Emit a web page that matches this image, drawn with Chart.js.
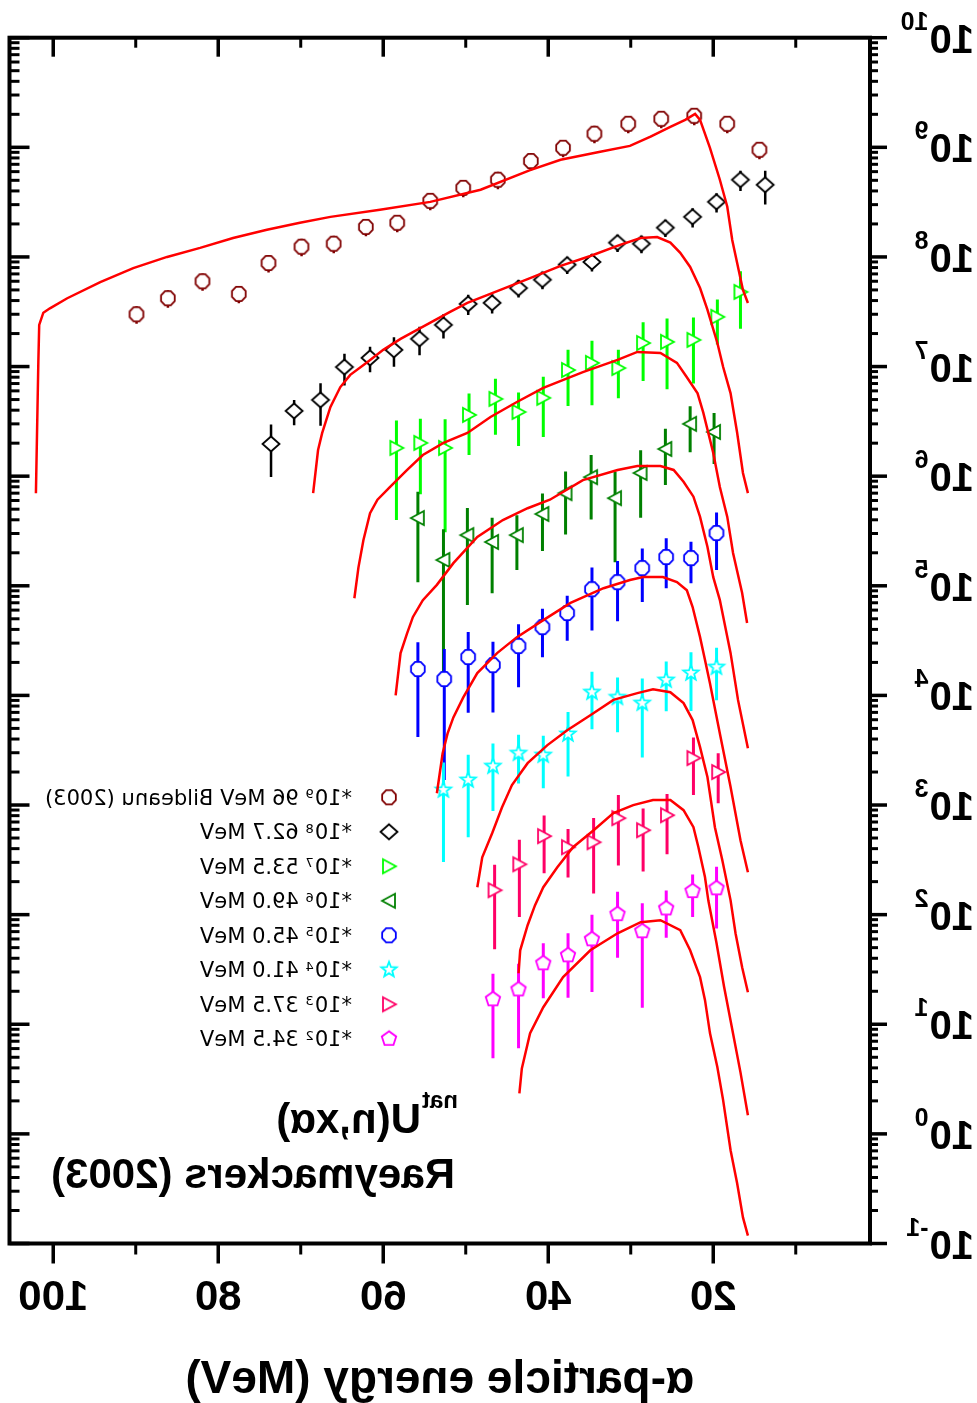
<!DOCTYPE html>
<html>
<head>
<meta charset="utf-8">
<script src="https://cdn.jsdelivr.net/npm/chart.js@4.4.0/dist/chart.umd.min.js"></script>
<style>
  html, body { margin: 0; padding: 0; background: #fff; }
  /* the reference is a mirror image of the original plot */
  #wrap { width: 977px; height: 1403px; transform: scaleX(-1); }
</style>
</head>
<body>
<div id="wrap"><canvas id="chart" width="977" height="1403"></canvas></div>
<script>
// measured points: energy (MeV), scaled yield, relative error
var e96 = [89.9, 86.1, 81.9, 77.5, 73.9, 69.9, 66.0, 62.1, 58.3, 54.3, 50.3, 46.1, 42.1, 38.2, 34.4, 30.3, 26.3, 22.3, 18.3, 14.4];
var y96 = [3.0e7, 4.2e7, 6.0e7, 4.6e7, 8.8e7, 1.24e8, 1.32e8, 1.88e8, 2.05e8, 3.25e8, 4.27e8, 5.06e8, 7.5e8, 9.9e8, 1.33e9, 1.64e9, 1.82e9, 1.94e9, 1.64e9, 9.5e8];
var f96 = [0.18, 0.18, 0.18, 0.18, 0.18, 0.18, 0.18, 0.18, 0.18, 0.18, 0.18, 0.18, 0.18, 0.18, 0.18, 0.18, 0.18, 0.18, 0.18, 0.18];

var e627 = [73.6, 70.8, 67.6, 64.7, 61.6, 58.7, 55.6, 52.7, 49.7, 46.8, 43.6, 40.7, 37.7, 34.7, 31.6, 28.7, 25.8, 22.5, 19.6, 16.7, 13.7];
var y627 = [1.97e6, 3.94e6, 4.96e6, 9.9e6, 1.2e7, 1.42e7, 1.79e7, 2.4e7, 3.73e7, 3.81e7, 5.2e7, 6.2e7, 8.5e7, 9.0e7, 1.35e8, 1.32e8, 1.85e8, 2.32e8, 3.18e8, 5.06e8, 4.55e8];
var f627 = [0.5, 0.26, 0.42, 0.32, 0.26, 0.3, 0.29, 0.25, 0.21, 0.2, 0.18, 0.18, 0.18, 0.18, 0.18, 0.18, 0.18, 0.2, 0.2, 0.21, 0.34];

var e535 = [58.4, 55.5, 52.5, 49.6, 46.4, 43.6, 40.6, 37.6, 34.7, 31.5, 28.5, 25.6, 22.4, 19.5, 16.7];
var y535 = [1.81e6, 2.01e6, 1.81e6, 3.62e6, 5.07e6, 3.85e6, 5.18e6, 9.3e6, 1.08e7, 9.7e6, 1.64e7, 1.68e7, 1.75e7, 2.84e7, 4.8e7];
var f535 = [0.78, 0.66, 0.83, 0.57, 0.53, 0.51, 0.56, 0.53, 0.59, 0.47, 0.55, 0.63, 0.6, 0.44, 0.54];

var e490 = [55.8, 52.7, 49.8, 46.8, 43.8, 40.7, 37.9, 34.8, 31.9, 28.8, 25.8, 22.8, 19.9];
var y490 = [4.15e5, 1.72e5, 2.9e5, 2.51e5, 2.9e5, 4.52e5, 7.0e5, 9.8e5, 6.3e5, 1.07e6, 1.77e6, 3.0e6, 2.53e6];
var f490 = [0.74, 0.91, 0.77, 0.66, 0.52, 0.54, 0.58, 0.59, 0.74, 0.61, 0.53, 0.45, 0.49];

var e450 = [55.8, 52.6, 49.7, 46.7, 43.6, 40.7, 37.7, 34.7, 31.6, 28.6, 25.7, 22.7, 19.6];
var y450 = [1.74e4, 1.41e4, 2.24e4, 1.89e4, 2.82e4, 4.2e4, 5.64e4, 9.3e4, 1.08e5, 1.45e5, 1.83e5, 1.79e5, 3.03e5];
var f450 = [0.76, 0.88, 0.69, 0.63, 0.58, 0.47, 0.44, 0.58, 0.56, 0.51, 0.48, 0.41, 0.54];

var e410 = [52.7, 49.7, 46.7, 43.6, 40.6, 37.6, 34.7, 31.6, 28.6, 25.7, 22.7, 19.6];
var y410 = [1.37e3, 1.69e3, 2.26e3, 2.97e3, 2.85e3, 4.44e3, 1.07e4, 9.6e3, 8.5e3, 1.38e4, 1.6e4, 1.81e4];
var f410 = [0.78, 0.7, 0.61, 0.47, 0.5, 0.59, 0.54, 0.52, 0.68, 0.48, 0.55, 0.5];

var e375 = [46.5, 43.5, 40.5, 37.6, 34.5, 31.5, 28.5, 25.6, 22.4, 19.4];
var y375 = [167, 288, 520, 412, 458, 759, 589, 807, 2680, 2000];
var f375 = [0.71, 0.67, 0.54, 0.47, 0.66, 0.63, 0.58, 0.56, 0.54, 0.48];

var e345 = [46.7, 43.6, 40.6, 37.6, 34.7, 31.6, 28.6, 25.7, 22.5, 19.6];
var y345 = [16.9, 20.8, 36.0, 42.6, 59.6, 101, 70.6, 114, 164, 174];
var f345 = [0.71, 0.71, 0.52, 0.59, 0.67, 0.6, 0.8, 0.46, 0.42, 0.57];

// calculated spectra (red lines)
var cA_x = [102.1, 101.8, 101.7, 101.2, 100.4, 98.3, 94.3, 90.3, 86.2, 82.2, 78.2, 74.1, 70.1, 66.4, 60.4, 54.3, 48.2, 42.2, 38.5, 33.7, 30.1, 27.6, 25.2, 23.4, 22.2, 21.6, 20.4, 19.2, 18.3, 17.7, 17.0, 16.4, 15.8];
var cA_y = [7.0e5, 1.15e7, 2.4e7, 3.1e7, 3.4e7, 4.2e7, 5.9e7, 7.9e7, 1.0e8, 1.21e8, 1.49e8, 1.77e8, 2.05e8, 2.32e8, 2.69e8, 3.18e8, 4.1e8, 6.2e8, 7.7e8, 9.1e8, 1.03e9, 1.25e9, 1.54e9, 1.78e9, 2.02e9, 1.78e9, 9.9e8, 5.06e8, 2.87e8, 1.43e8, 8.1e7, 5.0e7, 3.8e7];
var cB_x = [68.5, 67.9, 67.4, 66.4, 65.2, 64.0, 61.9, 60.0, 57.9, 55.9, 53.9, 51.9, 49.8, 45.8, 42.2, 38.5, 34.9, 31.3, 28.8, 26.8, 25.2, 24.0, 22.8, 21.6, 20.7, 19.5, 18.8, 17.9, 17.1, 16.4, 15.8];
var cB_y = [7.0e5, 1.73e6, 2.48e6, 4.28e6, 6.5e6, 8.4e6, 1.1e7, 1.42e7, 1.79e7, 2.16e7, 2.61e7, 3.15e7, 3.81e7, 5.0e7, 6.4e7, 8.3e7, 1.02e8, 1.29e8, 1.49e8, 1.52e8, 1.35e8, 1.09e8, 8.1e7, 5.2e7, 3.29e7, 1.64e7, 9.9e6, 5.7e6, 2.48e6, 1.07e6, 7.0e5];
var cC_x = [63.5, 63.0, 62.4, 61.6, 60.7, 59.2, 57.1, 55.2, 52.7, 49.8, 47.0, 43.8, 40.6, 35.8, 31.6, 29.2, 26.4, 24.4, 23.2, 21.9, 21.2, 20.0, 19.2, 18.3, 17.6, 16.5, 15.9];
var cC_y = [7.7e4, 1.48e5, 2.62e5, 4.6e5, 6.1e5, 7.96e5, 1.14e6, 1.56e6, 2.01e6, 2.48e6, 3.47e6, 4.75e6, 6.4e6, 8.9e6, 1.15e7, 1.36e7, 1.33e7, 1.08e7, 8.0e6, 5.7e6, 3.78e6, 1.63e6, 7.96e5, 4.25e5, 1.99e5, 8.6e4, 4.57e4];
var cD_x = [58.5, 57.9, 57.1, 56.4, 55.2, 53.5, 51.5, 48.6, 45.5, 42.5, 39.8, 35.8, 31.6, 29.2, 26.4, 24.8, 23.6, 22.4, 21.6, 20.7, 20.0, 19.2, 17.9, 17.0, 15.8];
var cD_y = [1.0e4, 2.43e4, 3.7e4, 5.2e4, 7.4e4, 1.02e5, 1.61e5, 2.79e5, 3.98e5, 5.1e5, 6.1e5, 9.2e5, 1.14e6, 1.24e6, 1.24e6, 1.14e6, 8.9e5, 6.5e5, 4.25e5, 2.26e5, 1.2e5, 7.4e4, 2.43e4, 9.1e3, 3.3e3];
var cE_x = [53.5, 52.8, 52.2, 51.5, 50.3, 48.6, 46.2, 43.8, 40.6, 37.3, 33.3, 30.1, 28.5, 26.1, 24.4, 23.2, 22.5, 21.6, 21.0, 20.4, 19.2, 17.9, 16.7, 15.8];
var cE_y = [1.28e3, 2.97e3, 4.5e3, 6.3e3, 9.6e3, 1.6e4, 2.43e4, 3.4e4, 4.86e4, 6.97e4, 9.5e4, 1.13e5, 1.2e5, 1.2e5, 1.08e5, 9.1e4, 6.4e4, 3.4e4, 2.1e4, 1.29e4, 4.5e3, 1.46e3, 478, 244];
var cF_x = [48.6, 48.0, 46.8, 45.6, 44.4, 42.5, 40.1, 37.7, 34.9, 32.1, 29.2, 27.3, 25.2, 23.6, 22.5, 21.6, 20.7, 19.8, 18.9, 17.9, 17.3, 16.5, 15.8];
var cF_y = [178, 334, 553, 955, 1520, 2410, 3520, 4820, 6600, 9100, 1.05e4, 1.14e4, 1.07e4, 8500, 5960, 3370, 1790, 628, 314, 135, 67.6, 33.1, 19.6];
var cG_x = [43.6, 43.4, 42.5, 41.6, 40.6, 38.9, 37.0, 34.5, 32.1, 29.7, 27.3, 25.2, 23.6, 22.4, 21.8, 21.0, 20.6, 19.6, 18.7, 17.7, 16.7, 15.8];
var cG_y = [29.2, 47.3, 80, 122, 178, 271, 412, 589, 843, 998, 1110, 1110, 898, 628, 412, 219, 135, 54.8, 22.2, 9.0, 3.64, 1.48];
var cH_x = [43.5, 43.2, 42.2, 40.6, 38.2, 34.9, 31.6, 28.8, 26.4, 24.0, 22.8, 21.6, 21.0, 20.4, 19.5, 18.8, 17.9, 17.1, 16.4, 15.8];
var cH_y = [2.34, 3.96, 8.3, 14.3, 26.9, 47.3, 67.6, 85.3, 88.9, 72.1, 47.3, 26.9, 16.6, 8.3, 4.05, 2.02, 0.71, 0.353, 0.173, 0.118];

// axes and legend text
var xMajor = [20, 40, 60, 80, 100];
var xMinor = [10, 30, 50, 70, 90];
var yDecades = [-1, 0, 1, 2, 3, 4, 5, 6, 7, 8, 9, 10];
var legendExp = ['9', '8', '7', '6', '5', '4', '3', '2'];
var legendText = ['96 MeV Bildeanu (2003)', '62.7 MeV', '53.5 MeV', '49.0 MeV', '45.0 MeV', '41.0 MeV', '37.5 MeV', '34.5 MeV'];

// hollow marker drawn into a small canvas, used as pointStyle
function marker(shape, color) {
  var c = document.createElement('canvas');
  c.width = 22; c.height = 22;
  var g = c.getContext('2d');
  var p = [], i, a;
  if (shape === 'oct') {
    for (i = 0; i < 8; i++) { a = (i * 45 + 22.5) * Math.PI / 180; p.push([7.4 * Math.cos(a), 7.8 * Math.sin(a)]); }
  } else if (shape === 'diamond') {
    p = [[0, -7.5], [8.5, 0], [0, 7.5], [-8.5, 0]];
  } else if (shape === 'triL') {
    p = [[-7, 0], [6, -7], [6, 7]];
  } else if (shape === 'triR') {
    p = [[7, 0], [-6, -7], [-6, 7]];
  } else if (shape === 'star') {
    for (i = 0; i < 10; i++) { a = (-90 + i * 36) * Math.PI / 180; var r = i % 2 ? 3.4 : 8; p.push([r * Math.cos(a), r * Math.sin(a)]); }
  } else if (shape === 'pent') {
    for (i = 0; i < 5; i++) { a = (-90 + i * 72) * Math.PI / 180; p.push([7.6 * Math.cos(a), 7.6 * Math.sin(a)]); }
  }
  g.translate(11, 11);
  g.beginPath();
  p.forEach(function (q, k) { if (k === 0) g.moveTo(q[0], q[1]); else g.lineTo(q[0], q[1]); });
  g.closePath();
  g.fillStyle = '#fff';
  g.fill();
  g.strokeStyle = color;
  g.lineWidth = 1.8;
  g.stroke();
  return c;
}

var series = [
  { e: e96, y: y96, f: f96, color: '#800000', shape: 'oct', bar: 2.5 },
  { e: e627, y: y627, f: f627, color: '#000000', shape: 'diamond', bar: 2.5 },
  { e: e535, y: y535, f: f535, color: '#00ff00', shape: 'triL', bar: 3 },
  { e: e490, y: y490, f: f490, color: '#008000', shape: 'triR', bar: 3 },
  { e: e450, y: y450, f: f450, color: '#0000ff', shape: 'oct', bar: 3 },
  { e: e410, y: y410, f: f410, color: '#00ffff', shape: 'star', bar: 3 },
  { e: e375, y: y375, f: f375, color: '#ff0066', shape: 'triL', bar: 3 },
  { e: e345, y: y345, f: f345, color: '#ff00ff', shape: 'pent', bar: 3 }
];
var curves = [[cA_x, cA_y], [cB_x, cB_y], [cC_x, cC_y], [cD_x, cD_y], [cE_x, cE_y], [cF_x, cF_y], [cG_x, cG_y], [cH_x, cH_y]];

function pts(xs, ys) {
  return xs.map(function (x, i) { return { x: x, y: ys[i] }; });
}

var datasets = [];
curves.forEach(function (c) {
  datasets.push({
    data: pts(c[0], c[1]),
    showLine: true,
    borderColor: '#ff0000',
    borderWidth: 2.5,
    pointRadius: 0,
    tension: 0,
    order: 0
  });
});
series.forEach(function (s) {
  s.img = marker(s.shape, s.color);
  datasets.push({
    data: pts(s.e, s.y),
    pointStyle: s.img,
    pointRadius: 8,
    showLine: false,
    order: 1,
    errF: s.f,
    errColor: s.color,
    errWidth: s.bar
  });
});

function line(ctx, x1, y1, x2, y2) {
  ctx.beginPath();
  ctx.moveTo(x1, y1);
  ctx.lineTo(x2, y2);
  ctx.stroke();
}

var decor = {
  id: 'decor',
  beforeDatasetsDraw: function (chart) {
    var ctx = chart.ctx, ca = chart.chartArea;
    var xs = chart.scales.x, ys = chart.scales.y;
    ctx.save();
    ctx.beginPath();
    ctx.rect(ca.left, ca.top, ca.width, ca.height);
    ctx.clip();
    chart.data.datasets.forEach(function (ds) {
      if (!ds.errF) return;
      ctx.strokeStyle = ds.errColor;
      ctx.lineWidth = ds.errWidth;
      ds.data.forEach(function (p, i) {
        var f = ds.errF[i];
        var px = xs.getPixelForValue(p.x);
        line(ctx, px, ys.getPixelForValue(p.y * (1 + f)), px, ys.getPixelForValue(p.y * (1 - f)));
      });
    });
    ctx.restore();
  },
  afterDatasetsDraw: function (chart) {
    var ctx = chart.ctx, ca = chart.chartArea;
    var xs = chart.scales.x, ys = chart.scales.y;
    ctx.save();
    ctx.strokeStyle = '#000';
    ctx.fillStyle = '#000';

    // x ticks: outward at bottom, inward at top
    ctx.lineWidth = 3.5;
    xMajor.forEach(function (v) {
      var px = xs.getPixelForValue(v);
      line(ctx, px, ca.bottom, px, ca.bottom + 20);
      line(ctx, px, ca.top, px, ca.top + 19);
    });
    ctx.lineWidth = 3;
    xMinor.forEach(function (v) {
      var px = xs.getPixelForValue(v);
      line(ctx, px, ca.bottom, px, ca.bottom + 11);
      line(ctx, px, ca.top, px, ca.top + 10);
    });

    // y ticks: outward on the labelled side, inward on the other
    yDecades.forEach(function (d) {
      var py = ys.getPixelForValue(Math.pow(10, d));
      ctx.lineWidth = 3.5;
      line(ctx, ca.left - 17, py, ca.left, py);
      line(ctx, ca.right - 20, py, ca.right, py);
      if (d === 10) return;
      ctx.lineWidth = 3;
      for (var m = 2; m <= 9; m++) {
        var pm = ys.getPixelForValue(m * Math.pow(10, d));
        line(ctx, ca.left - 8, pm, ca.left, pm);
        line(ctx, ca.right - 10, pm, ca.right, pm);
      }
    });

    // frame
    ctx.lineWidth = 4;
    ctx.strokeRect(ca.left, ca.top, ca.width, ca.height);

    // y tick labels 10^n
    yDecades.forEach(function (d) {
      var py = ys.getPixelForValue(Math.pow(10, d));
      ctx.textAlign = 'left';
      ctx.font = 'bold 40px "Liberation Sans", Arial, sans-serif';
      ctx.fillText('10', 3, py + 15);
      var w = ctx.measureText('10').width;
      ctx.font = 'bold 25px "Liberation Sans", Arial, sans-serif';
      ctx.fillText(String(d), 3 + w + 1, py - 8);
    });

    // x tick labels
    ctx.textAlign = 'center';
    ctx.font = 'bold 42px "Liberation Sans", Arial, sans-serif';
    xMajor.forEach(function (v) {
      ctx.fillText(String(v), xs.getPixelForValue(v), 1310);
    });

    // axis title
    ctx.font = 'bold 46px "Liberation Sans", Arial, sans-serif';
    ctx.fillText('\u03b1-particle energy (MeV)', (ca.left + ca.right) / 2, 1393);

    // reaction and reference
    ctx.textAlign = 'left';
    ctx.font = 'bold 24px "Liberation Sans", Arial, sans-serif';
    ctx.fillText('nat', 519, 1108);
    var wn = ctx.measureText('nat').width;
    ctx.font = 'bold 42px "Liberation Sans", Arial, sans-serif';
    ctx.fillText('U(n,x\u03b1)', 519 + wn + 1, 1133);
    ctx.fillText('Raeymackers (2003)', 522, 1188);

    // legend
    legendText.forEach(function (t, i) {
      var cy = 797.3 + i * 34.5;
      ctx.drawImage(series[i].img, 588 - 11, cy - 11);
      ctx.fillStyle = '#000';
      ctx.font = '21px "DejaVu Sans", sans-serif';
      ctx.fillText('*10', 625, cy + 7.5);
      var w1 = ctx.measureText('*10').width;
      ctx.font = '13px "DejaVu Sans", sans-serif';
      ctx.fillText(legendExp[i], 625 + w1 + 1, cy + 1);
      var w2 = ctx.measureText(legendExp[i]).width;
      ctx.font = '21px "DejaVu Sans", sans-serif';
      ctx.fillText(' ' + t, 625 + w1 + 1 + w2, cy + 7.5);
    });
    ctx.restore();
  }
};

var chart = new Chart(document.getElementById('chart').getContext('2d'), {
  type: 'scatter',
  data: { datasets: datasets },
  options: {
    responsive: false,
    animation: false,
    layout: { autoPadding: false, padding: { left: 107, right: 9.5, top: 37.7, bottom: 159.5 } },
    plugins: { legend: { display: false }, tooltip: { enabled: false } },
    scales: {
      x: { type: 'linear', min: 1, max: 105.3, display: false },
      y: { type: 'logarithmic', min: 0.1, max: 1e10, display: false }
    }
  },
  plugins: [decor]
});
</script>
</body>
</html>
